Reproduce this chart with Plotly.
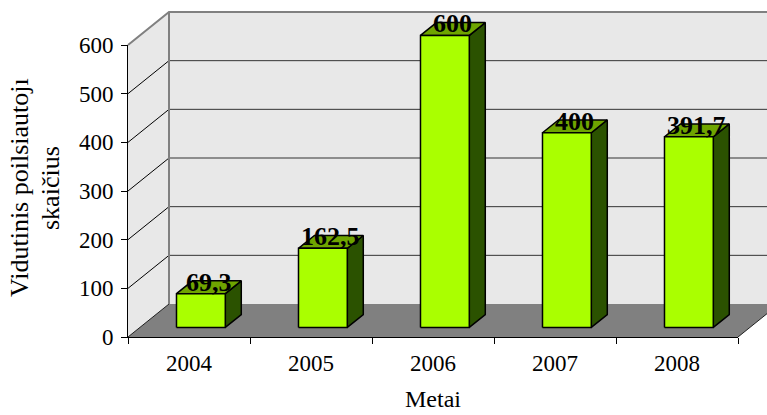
import plotly.graph_objects as go

# ---- chart data ----
years = ["2004", "2005", "2006", "2007", "2008"]
values = [69.3, 162.5, 600, 400, 391.7]
y_ticks = [0, 100, 200, 300, 400, 500, 600]
y_title_lines = ["Vidutinis poilsiautojı", "skaičius"]
x_title = "Metai"

# ---- geometry of the oblique 3-D box (pixels) ----
W, H = 767, 415
X0_PX, X1_PX = 128, 738          # front edge of the floor
Y0_PX, YTOP_PX = 337, 45         # value 0 and value max on the front axis
VMAX = y_ticks[-1]
N = len(years)
px_per_cat = (X1_PX - X0_PX) / N
px_per_val = (Y0_PX - YTOP_PX) / VMAX

DEPTH_DX_PX, DEPTH_DY_PX = 41, 33  # offset of the back wall
DX = DEPTH_DX_PX / px_per_cat       # in category units
DY = DEPTH_DY_PX / px_per_val       # in value units

Z0, Z1 = 0.29, 0.68   # bar front / back depth (fraction of box depth)
HALF_W = 0.2          # half bar width (category units)

# ---- colours ----
WALL = "#E8E8E8"
FLOOR = "#808080"
EDGE = "#808080"
GRID = "#333333"
FRONT = "#AAFF00"
TOP = "#6FA500"
SIDE = "#2B5200"
FONT = "Liberation Serif"

fig = go.Figure()


def poly(xs, ys, fill=None, color="black", width=1.0, closed=True):
    if closed:
        xs = list(xs) + [xs[0]]
        ys = list(ys) + [ys[0]]
    fig.add_trace(go.Scatter(
        x=xs, y=ys, mode="lines",
        fill="toself" if fill else "none",
        fillcolor=fill,
        line=dict(color=color, width=width),
        hoverinfo="skip", showlegend=False,
        xaxis="x", yaxis="y",
    ))


far = N + DX + 2  # right end beyond the visible area (clipped)

# back wall
poly([DX, far, far, DX], [DY, DY, VMAX + DY, VMAX + DY], fill=WALL, width=0)
# left side wall
poly([0, 0, DX, DX], [0, VMAX, VMAX + DY, DY], fill=WALL, width=0)
# floor
poly([0, N, N + DX, DX], [0, 0, DY, DY], fill=FLOOR, width=0)

# gridlines on back wall and side wall
for v in y_ticks[1:-1]:
    poly([DX, far], [v + DY, v + DY], color=GRID, width=1, closed=False)
    poly([0, DX], [v, v + DY], color="black", width=1, closed=False)

# floor edges
poly([0, DX], [0, DY], color="#202020", width=1, closed=False)
poly([N, N + DX], [0, DY], color="#202020", width=1, closed=False)

# wall border
poly([0, DX, far], [VMAX, VMAX + DY, VMAX + DY], color=EDGE, width=2, closed=False)
poly([DX, DX], [DY, VMAX + DY], color=EDGE, width=2, closed=False)

# bars
for i, v in enumerate(values):
    c = i + 0.5
    xl0, xr0 = c - HALF_W + Z0 * DX, c + HALF_W + Z0 * DX
    xl1, xr1 = c - HALF_W + Z1 * DX, c + HALF_W + Z1 * DX
    yb0, yb1 = Z0 * DY, Z1 * DY
    # side face
    poly([xr0, xr1, xr1, xr0], [yb0, yb1, v + yb1, v + yb0], fill=SIDE, width=1.5)
    # top face
    poly([xl0, xr0, xr1, xl1], [v + yb0, v + yb0, v + yb1, v + yb1], fill=TOP, width=1.5)
    # front face
    poly([xl0, xr0, xr0, xl0], [yb0, yb0, v + yb0, v + yb0], fill=FRONT, width=1.5)
    # value label over the top face
    fig.add_annotation(
        x=c + (Z0 + Z1) / 2 * DX, y=v + (Z0 + Z1) / 2 * DY,
        xref="x", yref="y", yshift=5,
        text=f"<b>{v:g}</b>".replace(".", ","),
        showarrow=False,
        font=dict(family=FONT, size=26, color="black"),
    )

# invisible anchor trace so the front axes subplot is created
fig.add_trace(go.Scatter(
    x=[i + 0.5 for i in range(N)], y=values, mode="markers",
    marker=dict(opacity=0), hoverinfo="skip", showlegend=False,
    xaxis="x2", yaxis="y2",
))

# titles
for line, xc in zip(y_title_lines, [19, 50]):
    fig.add_annotation(
        x=xc / W, y=(H - 188) / H, xref="paper", yref="paper",
        xanchor="center", yanchor="middle",
        text=line, textangle=-90, showarrow=False,
        font=dict(family=FONT, size=26, color="black"),
    )
fig.add_annotation(
    x=433 / W, y=(H - 399) / H, xref="paper", yref="paper",
    xanchor="center", yanchor="middle",
    text=x_title, showarrow=False,
    font=dict(family=FONT, size=24, color="black"),
)

fig.update_layout(
    width=W, height=H,
    margin=dict(l=0, r=0, t=0, b=0, pad=0, autoexpand=False),
    paper_bgcolor="white",
    plot_bgcolor="rgba(0,0,0,0)",
    showlegend=False,
    # drawing canvas: covers the whole figure, hidden
    xaxis=dict(
        domain=[0, 1], visible=False, fixedrange=True, automargin=False,
        range=[-X0_PX / px_per_cat, (W - X0_PX) / px_per_cat],
    ),
    yaxis=dict(
        domain=[0, 1], visible=False, fixedrange=True, automargin=False,
        range=[-(H - Y0_PX) / px_per_val, Y0_PX / px_per_val],
    ),
    # front axes of the box
    xaxis2=dict(
        domain=[X0_PX / W, X1_PX / W], anchor="y2", range=[0, N],
        showline=True, linecolor="black", linewidth=1, automargin=False,
        showgrid=False, zeroline=False, fixedrange=True,
        tickmode="array", tickvals=[i + 0.5 for i in range(N)], ticktext=years,
        ticks="", ticklabelstandoff=5,
        minor=dict(tickmode="array", tickvals=list(range(N + 1)),
                   ticks="outside", ticklen=6, tickwidth=1, tickcolor="black"),
        tickfont=dict(family=FONT, size=23, color="black"),
    ),
    yaxis2=dict(
        domain=[(H - Y0_PX) / H, (H - YTOP_PX) / H], anchor="x2", range=[0, VMAX],
        showline=True, linecolor="black", linewidth=1, automargin=False,
        showgrid=False, zeroline=False, fixedrange=True,
        tickmode="array", tickvals=y_ticks,
        ticks="outside", ticklen=6, tickwidth=1, tickcolor="black",
        ticklabelstandoff=3,
        tickfont=dict(family=FONT, size=23, color="black"),
    ),
)

fig.write_html("out.html")
